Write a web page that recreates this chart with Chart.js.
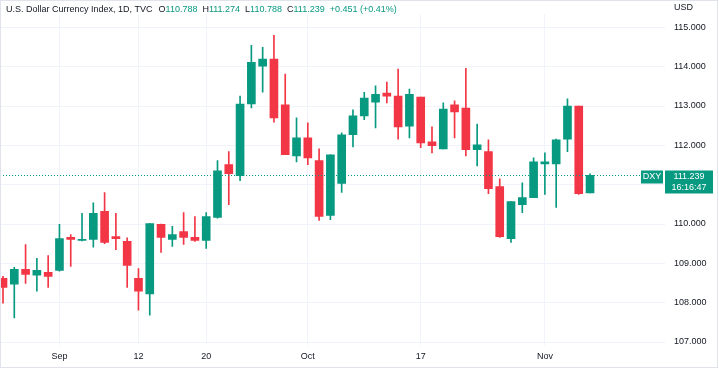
<!DOCTYPE html>
<html>
<head>
<meta charset="utf-8">
<script src="https://cdn.jsdelivr.net/npm/chart.js@4"></script>
<style>
  html, body { margin: 0; padding: 0; background: #fff; }
  #wrap { position: relative; width: 719px; height: 369px; }
</style>
</head>
<body>
<div id="wrap"><canvas id="dxyChart"></canvas></div>
<script>
// daily candles, Aug 25 - Nov 7
const dates = [
  'Aug 25', 'Aug 26', 'Aug 29', 'Aug 30', 'Aug 31',
  'Sep 1', 'Sep 2', 'Sep 5', 'Sep 6', 'Sep 7', 'Sep 8', 'Sep 9',
  'Sep 12', 'Sep 13', 'Sep 14', 'Sep 15', 'Sep 16',
  'Sep 19', 'Sep 20', 'Sep 21', 'Sep 22', 'Sep 23',
  'Sep 26', 'Sep 27', 'Sep 28', 'Sep 29', 'Sep 30',
  'Oct 3', 'Oct 4', 'Oct 5', 'Oct 6', 'Oct 7',
  'Oct 10', 'Oct 11', 'Oct 12', 'Oct 13', 'Oct 14',
  'Oct 17', 'Oct 18', 'Oct 19', 'Oct 20', 'Oct 21',
  'Oct 24', 'Oct 25', 'Oct 26', 'Oct 27', 'Oct 28',
  'Oct 31', 'Nov 1', 'Nov 2', 'Nov 3', 'Nov 4', 'Nov 7'
];
const opens = [
  108.62, 108.47, 108.85, 108.70, 108.77,
  108.82, 109.66, 109.58, 109.61, 110.32, 109.68, 109.56,
  108.62, 108.22, 109.99, 109.61, 109.81,
  109.66, 109.58, 110.17, 111.51, 111.23,
  113.05, 114.01, 114.19, 113.03, 111.73,
  112.19, 111.61, 110.22, 111.03, 112.27,
  112.75, 113.10, 113.33, 113.25, 112.49,
  113.23, 112.09, 111.91, 113.03, 112.95,
  111.89, 111.84, 110.95, 109.63, 110.49,
  110.67, 111.53, 111.53, 112.16, 113.00, 110.788
];
const highs = [
  108.67, 108.90, 109.48, 109.13, 109.20,
  109.99, 109.73, 110.27, 110.54, 110.80, 110.27, 109.65,
  108.87, 110.01, 110.00, 109.94, 110.29,
  110.19, 110.29, 111.61, 111.84, 113.25,
  114.54, 114.49, 114.80, 113.81, 112.70,
  112.57, 111.91, 111.76, 112.32, 112.90,
  113.35, 113.51, 113.61, 113.94, 113.43,
  113.23, 112.47, 113.08, 113.13, 113.96,
  112.54, 112.14, 111.15, 110.57, 111.05,
  111.68, 111.81, 112.16, 113.18, 113.00, 111.274
];
const lows = [
  107.99, 107.61, 108.49, 108.29, 108.39,
  108.80, 108.92, 109.57, 109.41, 109.50, 109.35, 108.39,
  107.81, 107.68, 109.28, 109.43, 109.48,
  109.56, 109.38, 110.15, 110.49, 111.10,
  112.95, 113.35, 112.59, 111.76, 111.58,
  111.51, 110.09, 110.11, 110.80, 111.96,
  112.65, 112.44, 113.08, 112.16, 112.19,
  111.94, 111.81, 111.91, 112.19, 111.73,
  111.48, 110.77, 109.66, 109.53, 110.29,
  110.67, 110.75, 110.42, 111.84, 110.75, 110.788
];
const closes = [
  108.39, 108.85, 108.72, 108.82, 108.67,
  109.63, 109.61, 109.61, 110.27, 109.53, 109.63, 108.95,
  108.29, 110.01, 109.66, 109.73, 109.66,
  109.58, 110.19, 111.35, 111.28, 113.05,
  114.11, 114.19, 112.70, 111.76, 112.19,
  111.68, 110.19, 111.76, 112.27, 112.75,
  113.20, 113.30, 113.25, 112.47, 113.30,
  112.06, 111.99, 112.92, 112.85, 111.89,
  112.01, 110.90, 109.68, 110.57, 110.67,
  111.58, 111.58, 112.14, 113.00, 110.77, 111.239
];

const tickDates = ['Sep 1', 'Sep 12', 'Sep 20', 'Oct 3', 'Oct 17', 'Nov 1'];
const tickTexts = ['Sep', '12', '20', 'Oct', '17', 'Nov'];
const priceTicks = [107, 108, 109, 110, 111, 112, 113, 114, 115];

const title = 'U.S. Dollar Currency Index, 1D, TVC';
const ohlcLetters = ['O', 'H', 'L', 'C'];
const ohlcValues = ['110.788', '111.274', '110.788', '111.239'];
const changeText = '+0.451 (+0.41%)';
const symbol = 'DXY';
const lastPrice = 111.239;
const countdown = '16:16:47';
const currency = 'USD';

const UP = '#089981';
const DOWN = '#f23645';
const TEXT = '#131722';
const GRID = '#f0f3fa';
const FONT = '"Liberation Sans", Arial, sans-serif';

const tickIdx = tickDates.map(d => dates.indexOf(d));
const colors = dates.map((d, i) => closes[i] >= opens[i] ? UP : DOWN);

const overlayPlugin = {
  id: 'overlay',
  afterDatasetsDraw(chart) {
    const ctx = chart.ctx;
    const area = chart.chartArea;
    const py = Math.round(chart.scales.y.getPixelForValue(lastPrice)) + 0.5;
    ctx.save();
    // last price dotted line
    ctx.strokeStyle = UP;
    ctx.lineWidth = 1;
    ctx.setLineDash([1, 2]);
    ctx.beginPath();
    ctx.moveTo(area.left, py);
    ctx.lineTo(area.right - 24, py);
    ctx.stroke();
    ctx.setLineDash([]);
    // symbol tag
    ctx.fillStyle = UP;
    ctx.fillRect(area.right - 24, py - 5, 22, 13);
    ctx.fillStyle = '#fff';
    ctx.font = '9px ' + FONT;
    ctx.textAlign = 'center';
    ctx.textBaseline = 'middle';
    ctx.fillText(symbol, area.right - 13, py + 1.5);
    // price tag on the axis
    ctx.fillStyle = UP;
    ctx.fillRect(area.right, py - 5, 48, 23);
    ctx.fillStyle = '#fff';
    ctx.fillText(lastPrice.toFixed(3), area.right + 24, py + 1.5);
    ctx.fillText(countdown, area.right + 24, py + 12);
    ctx.restore();
  },
  afterDraw(chart) {
    const ctx = chart.ctx;
    const area = chart.chartArea;
    ctx.save();
    ctx.font = '9px ' + FONT;
    ctx.textBaseline = 'middle';
    ctx.textAlign = 'left';
    let x = 6;
    const y = 10;
    ctx.fillStyle = TEXT;
    ctx.fillText(title, x, y);
    x += ctx.measureText(title).width + 6;
    ohlcLetters.forEach((l, i) => {
      ctx.fillStyle = TEXT;
      ctx.fillText(l, x, y);
      x += ctx.measureText(l).width;
      ctx.fillStyle = UP;
      ctx.fillText(ohlcValues[i], x, y);
      x += ctx.measureText(ohlcValues[i]).width + 5;
    });
    ctx.fillStyle = UP;
    ctx.fillText(changeText, x, y);
    // currency label
    ctx.fillStyle = TEXT;
    ctx.fillText(currency, area.right + 9, 8);
    // frame
    ctx.strokeStyle = '#e0e3eb';
    ctx.lineWidth = 1;
    ctx.strokeRect(0.5, 0.5, chart.width - 2, chart.height - 2);
    ctx.restore();
  }
};

new Chart(document.getElementById('dxyChart').getContext('2d'), {
  type: 'bar',
  data: {
    datasets: [
      {
        label: 'wick',
        data: dates.map((d, i) => ({ x: i, y: [lows[i], highs[i]] })),
        backgroundColor: colors,
        barThickness: 1,
        grouped: false,
        order: 2
      },
      {
        label: 'body',
        data: dates.map((d, i) => ({ x: i, y: [opens[i], closes[i]] })),
        backgroundColor: colors,
        barThickness: 8,
        minBarLength: 1,
        grouped: false,
        order: 1
      }
    ]
  },
  options: {
    responsive: true,
    maintainAspectRatio: false,
    animation: false,
    layout: { padding: 0 },
    plugins: {
      legend: { display: false },
      tooltip: { enabled: false }
    },
    scales: {
      x: {
        type: 'linear',
        offset: false,
        min: -0.266,
        max: 58.64,
        afterBuildTicks: axis => { axis.ticks = tickIdx.map(v => ({ value: v })); },
        afterFit: axis => { axis.height = 24; },
        grid: { color: GRID, drawTicks: false, offset: false },
        border: { display: false },
        ticks: {
          autoSkip: false,
          maxRotation: 0,
          padding: 6,
          color: TEXT,
          font: { size: 9, family: FONT },
          callback: (v, i) => tickTexts[i]
        }
      },
      y: {
        position: 'right',
        min: 106.924,
        max: 115.329,
        afterBuildTicks: axis => { axis.ticks = priceTicks.map(v => ({ value: v })); },
        afterFit: axis => { axis.width = 54; },
        grid: { color: GRID, drawTicks: false },
        border: { display: false },
        ticks: {
          padding: 9,
          color: TEXT,
          font: { size: 9, family: FONT },
          callback: v => v.toFixed(3)
        }
      }
    }
  },
  plugins: [overlayPlugin]
});
</script>
</body>
</html>
